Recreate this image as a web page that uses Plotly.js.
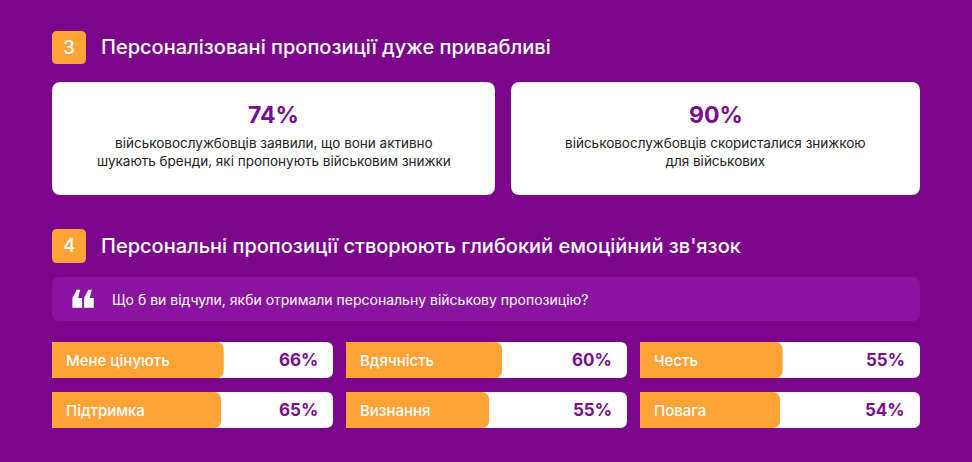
<!DOCTYPE html>
<html>
<head>
<meta charset="utf-8">
<script src="https://cdn.plot.ly/plotly-3.0.1.min.js"></script>
<style>html,body{margin:0;padding:0;background:#7B068C;}#chart{width:972px;height:462px;}</style>
</head>
<body>
<div id="chart"></div>
<script>
// ---- data ----
const sectionNumbers = ['3', '4'];
const sectionTitles = ['Персоналізовані пропозиції дуже привабливі', 'Персональні пропозиції створюють глибокий емоційний зв\'язок'];
const statValues = [74, 90];
const statTexts = [
  'військовослужбовців заявили, що вони активно<br>шукають бренди, які пропонують військовим знижки',
  'військовослужбовців скористалися знижкою<br>для військових'
];
const question = 'Що б ви відчули, якби отримали персональну військову пропозицію?';
const feelings = ['Мене цінують', 'Вдячність', 'Честь', 'Підтримка', 'Визнання', 'Повага'];
const feelingValues = [66, 60, 55, 65, 55, 54];

// ---- layout helpers ----
const W = 972, H = 462;
const BG = '#7B068C', ORANGE = '#FFA337', PURPLE = '#7A0A8E', QUOTE_BG = '#8A14A0';
const FONT = 'Inter, Roboto, sans-serif';
const px = x => x / W, py = y => 1 - y / H;
function rrect(x0, y0, x1, y1, r, color) {
  const p = (x, y) => px(x) + ',' + py(y);
  const path = 'M' + p(x0 + r, y0) + ' L' + p(x1 - r, y0) + ' Q' + p(x1, y0) + ' ' + p(x1, y0 + r) +
    ' L' + p(x1, y1 - r) + ' Q' + p(x1, y1) + ' ' + p(x1 - r, y1) +
    ' L' + p(x0 + r, y1) + ' Q' + p(x0, y1) + ' ' + p(x0, y1 - r) +
    ' L' + p(x0, y0 + r) + ' Q' + p(x0, y0) + ' ' + p(x0 + r, y0) + ' Z';
  return {type: 'path', xref: 'paper', yref: 'paper', path: path, fillcolor: color, line: {width: 0}, layer: 'below'};
}

const shapes = [];
const annotations = [];

// section headers
const headerY = [[31, 64], [229, 263]];
sectionNumbers.forEach((n, i) => {
  const [y0, y1] = headerY[i];
  shapes.push(rrect(52, y0, 86, y1, 5, ORANGE));
  annotations.push({xref: 'paper', yref: 'paper', x: px(69), y: py((y0 + y1) / 2), text: n, showarrow: false,
    xanchor: 'center', yanchor: 'middle', font: {family: FONT, size: 19, color: '#fff', weight: 500}});
  annotations.push({xref: 'paper', yref: 'paper', x: px(99), y: py((y0 + y1) / 2), text: sectionTitles[i], showarrow: false,
    xanchor: 'left', yanchor: 'middle', font: {family: FONT, size: 20, color: '#fff', weight: 500}});
});

// stat cards
const cards = [[52, 495], [511, 920]];
cards.forEach((c, i) => {
  shapes.push(rrect(c[0], 82, c[1], 195, 9, '#ffffff'));
  const cx = px((c[0] + c[1]) / 2);
  annotations.push({xref: 'paper', yref: 'paper', x: cx, y: py(115), text: '<b>' + statValues[i] + '%</b>', showarrow: false,
    xanchor: 'center', yanchor: 'middle', font: {family: FONT, size: 23, color: PURPLE}});
  annotations.push({xref: 'paper', yref: 'paper', x: cx, y: py(151.5), text: statTexts[i], showarrow: false,
    xanchor: 'center', yanchor: 'middle', align: 'center', font: {family: FONT, size: 13.5, color: '#222'}});
});

// question box
shapes.push(rrect(52, 277, 920, 321, 8, QUOTE_BG));
annotations.push({xref: 'paper', yref: 'paper', x: px(66), y: py(299), text: '❝', showarrow: false,
  xanchor: 'left', yanchor: 'middle', yshift: -11, font: {family: 'DejaVu Sans, sans-serif', size: 54, color: '#fff'}});
annotations.push({xref: 'paper', yref: 'paper', x: px(110), y: py(299), text: question, showarrow: false,
  xanchor: 'left', yanchor: 'middle', font: {family: FONT, size: 14, color: '#fff'}});

// bar grid
const cols = [[52, 333], [346, 627], [640, 920]];
const rows = [[342, 378], [392, 428]];
const traces = [];
const layout = {
  width: W, height: H, margin: {l: 0, r: 0, t: 0, b: 0},
  paper_bgcolor: BG, plot_bgcolor: 'rgba(0,0,0,0)', showlegend: false,
  shapes: shapes, annotations: annotations, barmode: 'overlay'
};
feelings.forEach((name, i) => {
  const col = cols[i % 3], row = rows[Math.floor(i / 3)];
  const k = i + 1, suf = k === 1 ? '' : String(k);
  shapes.push(rrect(col[0], row[0], col[1], row[1], 7, '#ffffff'));
  layout['xaxis' + suf] = {domain: [px(col[0]), px(col[1])], range: [0, 108], visible: false, fixedrange: true, anchor: 'y' + suf};
  layout['yaxis' + suf] = {domain: [py(row[1]), py(row[0])], range: [-0.5, 0.5], visible: false, fixedrange: true, anchor: 'x' + suf};
  traces.push({type: 'bar', orientation: 'h', x: [feelingValues[i]], y: [0], width: 1,
    xaxis: 'x' + suf, yaxis: 'y' + suf, marker: {color: ORANGE, cornerradius: 7, line: {width: 0}},
    hoverinfo: 'skip'});
  annotations.push({xref: 'x' + suf + ' domain', yref: 'y' + suf + ' domain', x: 0, y: 0.5, xshift: 12, text: name,
    showarrow: false, xanchor: 'left', yanchor: 'middle', font: {family: FONT, size: 15, color: '#fff', weight: 500}});
  annotations.push({xref: 'x' + suf + ' domain', yref: 'y' + suf + ' domain', x: 1, y: 0.5, xshift: -13,
    text: '<b>' + feelingValues[i] + '%</b>', showarrow: false, xanchor: 'right', yanchor: 'middle',
    font: {family: FONT, size: 17, color: PURPLE}});
});

Plotly.newPlot('chart', traces, layout, {displayModeBar: false, staticPlot: true});
</script>
</body>
</html>
